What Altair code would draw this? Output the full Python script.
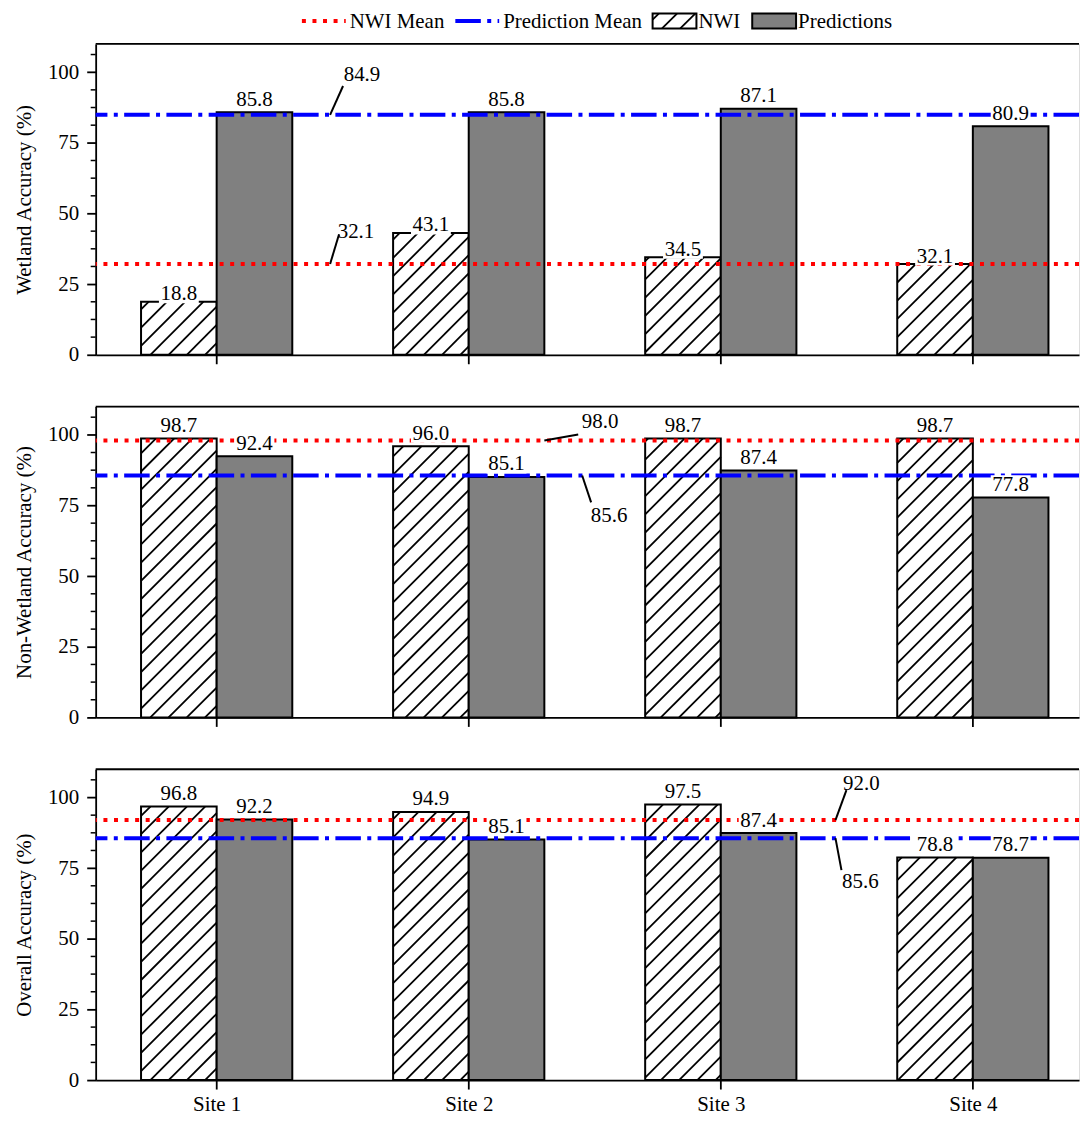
import json
import math
import pandas as pd
import altair as alt

# ---------------- data ----------------
SITES = ["Site 1", "Site 2", "Site 3", "Site 4"]
PANEL_TITLES = ["Wetland Accuracy (%)", "Non-Wetland Accuracy (%)", "Overall Accuracy (%)"]
NWI_WETLAND = [18.8, 43.1, 34.5, 32.1]
PRED_WETLAND = [85.8, 85.8, 87.1, 80.9]
NWI_NONWET = [98.7, 96.0, 98.7, 98.7]
PRED_NONWET = [92.4, 85.1, 87.4, 77.8]
NWI_OVERALL = [96.8, 94.9, 97.5, 78.8]
PRED_OVERALL = [92.2, 85.1, 87.4, 78.7]
NWI_MEANS = [32.1, 98.0, 92.0]
PRED_MEANS = [84.9, 85.6, 85.6]
LEGEND_LABELS = ["NWI Mean", "Prediction Mean", "NWI", "Predictions"]

# annotation anchors (x in data units) and leader/text offsets (pixels, +down)
ANNOT = [
    {"nwi": dict(ax=0.45, lx=9, ly=-30, tx=26, ty=-32),
     "pred": dict(ax=0.45, lx=13, ly=-29, tx=32, ty=-40)},
    {"nwi": dict(ax=1.30, lx=34, ly=-6, tx=56, ty=-19),
     "pred": dict(ax=1.45, lx=9, ly=27, tx=27, ty=41)},
    {"nwi": dict(ax=2.455, lx=11, ly=-30, tx=26, ty=-36),
     "pred": dict(ax=2.455, lx=6, ly=32, tx=25, ty=44)},
]
# gap (px) between bar top and label baseline, per panel: (NWI, Predictions)
LABEL_GAP = [(1.5, 6.5), (6.5, 6.5), (6.5, 6.5)]

# ---------------- geometry / style ----------------
FONT = "Liberation Serif, Times New Roman, Times, serif"
FS = 21
XMIN = -0.48
PXX = 253.0
W = 987
XMAX = XMIN + W / PXX
H = 312
YMAX = 110.0
PXY = H / YMAX
SPACING = 52
BAR_W = 0.3
HATCH_S = 18.3
RED = "#ff0000"
BLUE = "#0000ff"
GRAY = "#808080"
RED_DASH = [4, 6.6]
BLUE_DASH = [25.6, 6.4, 4, 6.4]
MINOR_TICKS = [k * 6.25 for k in range(18) if k % 4]
BOX_PATH = "M-1,-0.475L1,-0.475L1,0.475L-1,0.475Z"


def hatch_px(x0, x1, y0, y1, s=HATCH_S, phase=0.0):
    segs = []
    cmin, cmax = x0 - y1, x1 - y0
    k = math.floor((cmin - phase) / s)
    while phase + k * s <= cmax:
        c = phase + k * s
        lo = max(y0, x0 - c)
        hi = min(y1, x1 - c)
        if hi - lo > 0.8:
            segs.append((lo + c, lo, hi + c, hi))
        k += 1
    return segs


def xs():
    return alt.Scale(domain=[XMIN, XMAX], nice=False, zero=False)


def ys():
    return alt.Scale(domain=[0, YMAX], nice=False, zero=True)


def panel(nwi, pred, nwi_mean, pred_mean, title, ann, gaps, bottom, legend):
    idx = list(range(len(SITES)))
    nwi_df = pd.DataFrame({"x0": [i - BAR_W for i in idx], "x1": idx,
                           "xc": [i - BAR_W / 2 for i in idx], "value": nwi, "zero": 0.0})
    pred_df = pd.DataFrame({"x0": idx, "x1": [i + BAR_W for i in idx],
                            "xc": [i + BAR_W / 2 for i in idx], "value": pred, "zero": 0.0})

    rows = []
    for _, r in nwi_df.iterrows():
        px0 = (r.x0 - XMIN) * PXX
        px1 = (r.x1 - XMIN) * PXX
        for (ax_, ay_, bx_, by_) in hatch_px(px0, px1, 0.0, r.value * PXY):
            rows.append({"hx": XMIN + ax_ / PXX, "hy": ay_ / PXY,
                         "hx2": XMIN + bx_ / PXX, "hy2": by_ / PXY})
    hatch_df = pd.DataFrame(rows)

    x_axis = alt.Axis(values=idx, labelExpr=f"{json.dumps(SITES)}[datum.value]",
                      labels=bottom, title=None, grid=False, tickSize=9, tickWidth=1.8,
                      tickColor="black", domainColor="black", domainWidth=1.8,
                      labelFont=FONT, labelFontSize=FS, labelColor="black",
                      labelPadding=5, labelOverlap=False)
    y_axis = alt.Axis(values=[0, 25, 50, 75, 100], format="d", title=title, grid=False,
                      tickSize=9, tickWidth=1.8, tickColor="black", domainColor="black",
                      domainWidth=1.8, labelFont=FONT, labelFontSize=FS, labelColor="black",
                      labelPadding=8, labelOverlap=False, titleFont=FONT, titleFontSize=FS,
                      titleFontWeight="normal", titleColor="black", titlePadding=13)

    def X(f):
        return alt.X(f, scale=xs(), axis=x_axis)

    def Y(f):
        return alt.Y(f, scale=ys(), axis=y_axis)

    layers = []
    layers.append(alt.Chart(nwi_df).mark_bar(fill="white", stroke="black", strokeWidth=2).encode(
        x=X("x0:Q"), x2="x1:Q", y=Y("value:Q"), y2="zero:Q"))
    layers.append(alt.Chart(hatch_df).mark_rule(color="black", strokeWidth=1.8).encode(
        x=X("hx:Q"), x2="hx2:Q", y=Y("hy:Q"), y2="hy2:Q"))
    layers.append(alt.Chart(pred_df).mark_bar(fill=GRAY, stroke="black", strokeWidth=2).encode(
        x=X("x0:Q"), x2="x1:Q", y=Y("value:Q"), y2="zero:Q"))

    means_df = pd.DataFrame({"m": [nwi_mean]})
    layers.append(alt.Chart(means_df).mark_rule(color=RED, strokeDash=RED_DASH, strokeWidth=4).encode(
        y=Y("m:Q")))
    pmeans_df = pd.DataFrame({"m": [pred_mean]})
    layers.append(alt.Chart(pmeans_df).mark_rule(color=BLUE, strokeDash=BLUE_DASH, strokeWidth=4).encode(
        y=Y("m:Q")))

    # bar value labels with white boxes behind them
    for df, gap in ((nwi_df, gaps[0]), (pred_df, gaps[1])):
        layers.append(alt.Chart(df).mark_point(shape=BOX_PATH, size=1600, filled=True, fill="white",
                                               opacity=1, strokeOpacity=0, yOffset=-(gap + 6.5)).encode(
            x=X("xc:Q"), y=Y("value:Q")))
        layers.append(alt.Chart(df).mark_text(font=FONT, fontSize=FS, baseline="alphabetic",
                                              align="center", dy=-gap, color="black").encode(
            x=X("xc:Q"), y=Y("value:Q"), text=alt.Text("value:Q", format=".1f")))

    # mean annotations
    arows = []
    for key, m in (("nwi", nwi_mean), ("pred", pred_mean)):
        a = ann[key]
        arows.append({"x": a["ax"], "y": m, "x2": a["ax"] + a["lx"] / PXX, "y2": m - a["ly"] / PXY,
                      "tx": a["ax"] + a["tx"] / PXX, "ty": m - a["ty"] / PXY, "val": m})
    ann_df = pd.DataFrame(arows)
    layers.append(alt.Chart(ann_df).mark_rule(color="black", strokeWidth=2).encode(
        x=X("x:Q"), x2="x2:Q", y=Y("y:Q"), y2="y2:Q"))
    layers.append(alt.Chart(ann_df).mark_text(font=FONT, fontSize=FS, baseline="middle",
                                              align="center", color="black").encode(
        x=X("tx:Q"), y=Y("ty:Q"), text=alt.Text("val:Q", format=".1f")))

    # minor y ticks
    layers.append(alt.Chart(pd.DataFrame({"v": MINOR_TICKS})).mark_rule(color="black", strokeWidth=1.5).encode(
        y=Y("v:Q"), x=alt.value(-5), x2=alt.value(0)))
    # top spine
    layers.append(alt.Chart(pd.DataFrame({"v": [0]})).mark_rule(color="black", strokeWidth=1.8).encode(
        x=alt.value(0), x2=alt.value(W), y=alt.value(0)))

    if legend:
        ly = -23
        tb = -16
        one = pd.DataFrame({"v": [0]})
        layers.append(alt.Chart(one).mark_rule(
            color=RED, strokeDash=RED_DASH, strokeWidth=4).encode(
            x=alt.value(207), x2=alt.value(251), y=alt.value(ly)))
        layers.append(alt.Chart(one).mark_rule(
            color=BLUE, strokeDash=BLUE_DASH, strokeWidth=4).encode(
            x=alt.value(361), x2=alt.value(405), y=alt.value(ly)))
        layers.append(alt.Chart(one).mark_rect(
            fill="white", stroke="black", strokeWidth=2).encode(
            x=alt.value(559), x2=alt.value(603), y=alt.value(-30.5), y2=alt.value(-15.5)))
        for (ax_, ay_, bx_, by_) in hatch_px(559, 603, 15.5, 30.5, phase=4):
            layers.append(alt.Chart(one).mark_rule(
                color="black", strokeWidth=1.8).encode(
                x=alt.value(ax_), x2=alt.value(bx_), y=alt.value(-ay_), y2=alt.value(-by_)))
        layers.append(alt.Chart(one).mark_rect(
            fill=GRAY, stroke="black", strokeWidth=2).encode(
            x=alt.value(659), x2=alt.value(703), y=alt.value(-30.5), y2=alt.value(-15.5)))
        for lx, lab in zip([255, 409, 605, 705], LEGEND_LABELS):
            layers.append(alt.Chart(one).mark_text(
                font=FONT, fontSize=FS, align="left", baseline="alphabetic", color="black").encode(
                x=alt.value(lx), y=alt.value(tb), text=alt.value(lab)))

    return alt.layer(*layers).properties(width=W, height=H)


p1 = panel(NWI_WETLAND, PRED_WETLAND, NWI_MEANS[0], PRED_MEANS[0], PANEL_TITLES[0], ANNOT[0],
           LABEL_GAP[0], False, True)
p2 = panel(NWI_NONWET, PRED_NONWET, NWI_MEANS[1], PRED_MEANS[1], PANEL_TITLES[1], ANNOT[1],
           LABEL_GAP[1], False, False)
p3 = panel(NWI_OVERALL, PRED_OVERALL, NWI_MEANS[2], PRED_MEANS[2], PANEL_TITLES[2], ANNOT[2],
           LABEL_GAP[2], True, False)

chart = alt.vconcat(p1, p2, p3, spacing=SPACING, bounds="flush").properties(
    padding={"left": 5, "top": 0, "right": 0, "bottom": 0},
    background="white",
).configure_view(strokeWidth=0).configure(font=FONT).configure_text(font=FONT)

chart.save("out.html", embed_options={"renderer": "svg", "actions": False})
